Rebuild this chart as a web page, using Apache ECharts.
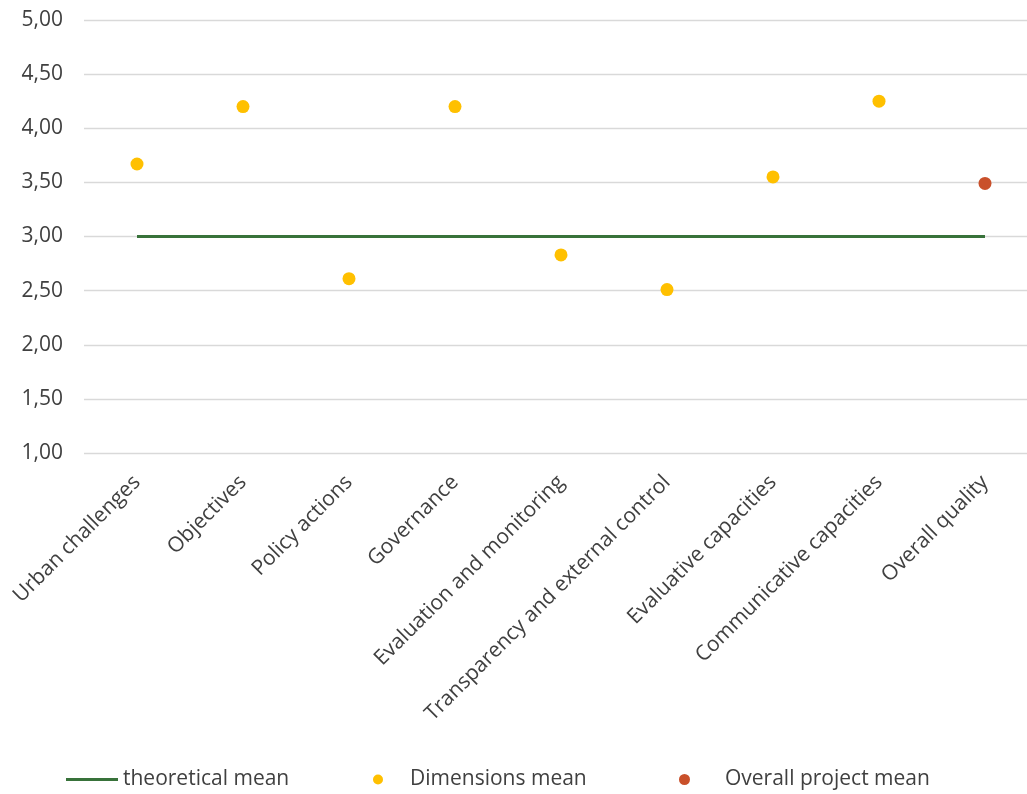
<!DOCTYPE html>
<html>
<head>
<meta charset="utf-8">
<script src="https://cdn.jsdelivr.net/npm/echarts@6/dist/echarts.min.js"></script>
<style>html,body{margin:0;padding:0;background:#fff}#c{width:1027px;height:794px}</style>
</head>
<body>
<div id="c"></div>
<script>
const categories = ["Urban challenges","Objectives","Policy actions","Governance","Evaluation and monitoring","Transparency and external control","Evaluative capacities","Communicative capacities","Overall quality"];
const theoreticalMean = [3,3,3,3,3,3,3,3,3];
const dimensionsMean = [3.67,4.20,2.61,4.20,2.83,2.51,3.55,4.25,null];
const overallMean = [null,null,null,null,null,null,null,null,3.49];
const yTicks = {min:1, max:5, interval:0.5};

const font = "'Open Sans', sans-serif";
const txt = '#404040';
const fs = 21;
const chart = echarts.init(document.getElementById('c'), null, {renderer:'canvas'});
chart.setOption({
  animation:false,
  textStyle:{fontFamily:font},
  grid:{left:84, top:20, width:954, height:433, outerBoundsMode:'none', containLabel:false},
  xAxis:{
    type:'category', data:categories, boundaryGap:true,
    axisLine:{show:false}, axisTick:{show:false},
    axisLabel:{rotate:45, margin:26, fontSize:fs, color:txt, fontFamily:font, interval:0}
  },
  yAxis:{
    type:'value', min:yTicks.min, max:yTicks.max, interval:yTicks.interval,
    axisLine:{show:false}, axisTick:{show:false},
    splitLine:{lineStyle:{color:'#d9d9d9', width:1.3}},
    axisLabel:{margin:21, fontSize:fs, color:txt, fontFamily:font,
      formatter:v=>v.toFixed(2).replace('.',',')}
  },
  legend:[
    {data:[{name:'theoretical mean', icon:'rect'}], left:61, top:764, itemWidth:52, itemHeight:3, itemGap:0,
     textStyle:{fontSize:fs, color:txt, fontFamily:font}},
    {data:[{name:'Dimensions mean', icon:'circle'}], left:368, top:764, itemWidth:10, itemHeight:10,
     textStyle:{fontSize:fs, color:txt, fontFamily:font, padding:[0,0,0,22]}},
    {data:[{name:'Overall project mean', icon:'circle'}], left:674, top:764, itemWidth:11, itemHeight:11,
     textStyle:{fontSize:fs, color:txt, fontFamily:font, padding:[0,0,0,30]}}
  ],
  series:[
    {name:'theoretical mean', type:'line', data:theoreticalMean, symbol:'none', showSymbol:false,
     lineStyle:{color:'#38723a', width:3}, itemStyle:{color:'#38723a'}},
    {name:'Dimensions mean', type:'scatter', data:dimensionsMean, symbol:'circle', symbolSize:13,
     itemStyle:{color:'#ffc000', opacity:1}},
    {name:'Overall project mean', type:'scatter', data:overallMean, symbol:'circle', symbolSize:13,
     itemStyle:{color:'#c9502a', opacity:1}}
  ]
});
</script>
</body>
</html>
